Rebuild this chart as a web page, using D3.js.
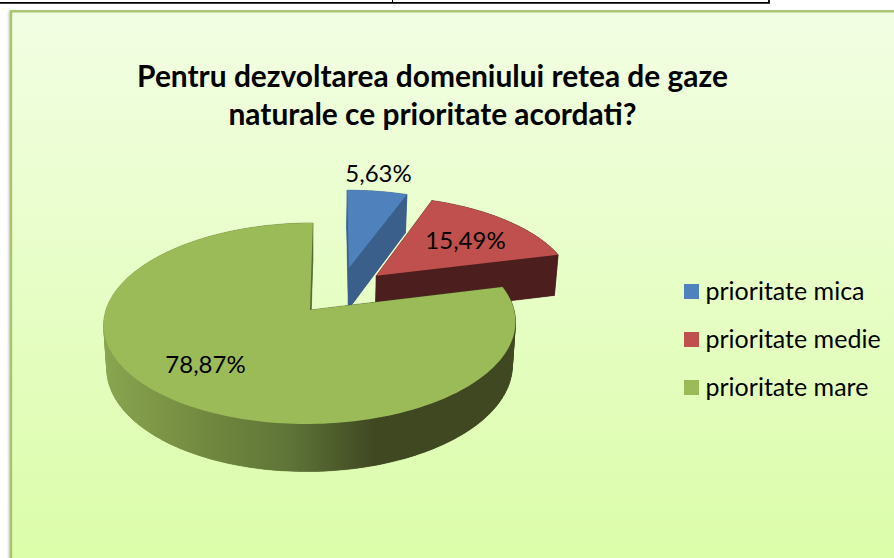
<!DOCTYPE html>
<html>
<head>
<meta charset="utf-8">
<script src="https://cdn.jsdelivr.net/npm/d3@7"></script>
<style>
  html, body { margin: 0; padding: 0; background: #fff; }
  svg { display: block; }
  text { font-family: Lato, "Open Sans", sans-serif; fill: #000; }
</style>
</head>
<body>
<svg width="894" height="558"></svg>
<script>
const categories = ['prioritate mica', 'prioritate medie', 'prioritate mare'];
const shares = [5.63, 15.49, 78.87];
const shareLabels = ['5,63%', '15,49%', '78,87%'];
const titleLines = ['Pentru dezvoltarea domeniului retea de gaze', 'naturale ce prioritate acordati?'];

const topColors = ['#4f81bd', '#c0504d', '#9bbb59'];
const sideColors = ['#3a5f8b', '#4c1f1e', '#404822'];
// how far each slice is pulled out of the pie, in units of the radius
const explode = [[0.195, 0.45], [0.335, 0.365], [0, 0]];

const svg = d3.select('svg');
const defs = svg.append('defs');

const bg = defs.append('linearGradient').attr('id', 'bg')
  .attr('x1', 0).attr('y1', 0).attr('x2', 0).attr('y2', 1);
bg.append('stop').attr('offset', 0).attr('stop-color', '#f2fee3');
bg.append('stop').attr('offset', 1).attr('stop-color', '#dbfda8');

const blur = defs.append('filter').attr('id', 'soft')
  .attr('x', '-5%').attr('y', '-5%').attr('width', '110%').attr('height', '110%');
blur.append('feGaussianBlur').attr('stdDeviation', 1);

// table rule left over above the chart
svg.append('path')
  .attr('d', 'M0,2.9H769V0')
  .attr('fill', 'none').attr('stroke', '#000').attr('stroke-width', 1.8);
svg.append('path')
  .attr('d', 'M392.5,0V3')
  .attr('fill', 'none').attr('stroke', '#000').attr('stroke-width', 1);

// chart card
svg.append('rect').attr('x', 8.5).attr('y', 11).attr('width', 900).attr('height', 560)
  .attr('fill', '#999').attr('opacity', 0.5).attr('filter', 'url(#soft)');
svg.append('rect').attr('x', 11).attr('y', 11.3).attr('width', 900).attr('height', 560)
  .attr('fill', 'url(#bg)').attr('stroke', '#a8c46f').attr('stroke-width', 2.4);

// title
svg.append('g').selectAll('text').data(titleLines).join('text')
  .attr('x', 432.5)
  .attr('y', (d, i) => 87 + i * 38)
  .attr('text-anchor', 'middle')
  .attr('font-size', 29.9)
  .attr('font-weight', 700)
  .text(d => d);

// pie plane -> screen, a simple perspective so the near side comes out bigger
const cx = 310, cy = 310, R = 204, Ry = 98.7, k = 0.134, vanishX = cx + 24;
const project = (u, v) => {
  const s = 1 / (1 + k * v);
  return [vanishX + (cx - vanishX + R * u) * s, cy - Ry * v * s];
};
const lower = ([x, y]) => [cx + 0.985 * (x - cx), cy + 43 + 1.04 * (y - cy)];

const arcs = d3.pie().sort(null).value(d => d)(shares);
const line = d3.line();

const rimPoints = (d, i) => {
  const [ox, oy] = explode[i];
  const n = Math.max(2, Math.ceil((d.endAngle - d.startAngle) * 40));
  return d3.range(n + 1).map(j => {
    const a = d.startAngle + (d.endAngle - d.startAngle) * j / n;
    return project(ox + Math.sin(a), oy + Math.cos(a));
  });
};

// gradient along the front wall of the big slice
const wallGrad = defs.append('linearGradient').attr('id', 'wall')
  .attr('gradientUnits', 'userSpaceOnUse')
  .attr('x1', 102).attr('y1', 0).attr('x2', 515).attr('y2', 0);
[[0, '#8aa650'], [0.25, '#71893f'], [0.45, '#5f7538'], [0.66, '#404822'], [1, '#404822']]
  .forEach(([o, c]) => wallGrad.append('stop').attr('offset', o).attr('stop-color', c));

const pie = svg.append('g');
arcs.forEach((d, i) => {
  const rim = rimPoints(d, i);
  const apex = project(explode[i][0], explode[i][1]);
  const outline = [apex, ...rim];
  const side = i === 2 ? 'url(#wall)' : sideColors[i];
  const g = pie.append('g');
  // bottom face and the walls between the two faces
  g.append('path')
    .attr('d', line(outline.map(lower)) + 'Z')
    .attr('fill', side);
  d3.pairs([...outline, apex]).forEach(([p, q]) => {
    g.append('path')
      .attr('d', line([p, q, lower(q), lower(p)]) + 'Z')
      .attr('fill', side)
      .attr('stroke', side).attr('stroke-width', 0.5);
  });
  g.append('path')
    .attr('d', line(outline) + 'Z')
    .attr('fill', topColors[i]);
});

// value labels
const labelSpots = [[378.5, 181.5], [465.5, 249], [205.5, 373]];
svg.append('g').selectAll('text').data(shareLabels).join('text')
  .attr('x', (d, i) => labelSpots[i][0])
  .attr('y', (d, i) => labelSpots[i][1])
  .attr('text-anchor', 'middle')
  .attr('font-size', 24)
  .text(d => d);

// legend
const legendY = d3.scalePoint().domain(categories).range([284, 380]);
const legend = svg.append('g').selectAll('g').data(categories).join('g')
  .attr('transform', d => `translate(684,${legendY(d)})`);
legend.append('rect')
  .attr('width', 15).attr('height', 15)
  .attr('fill', (d, i) => topColors[i]);
legend.append('text')
  .attr('x', 21.5).attr('y', 15.7)
  .attr('font-size', 25)
  .text(d => d);
</script>
</body>
</html>
